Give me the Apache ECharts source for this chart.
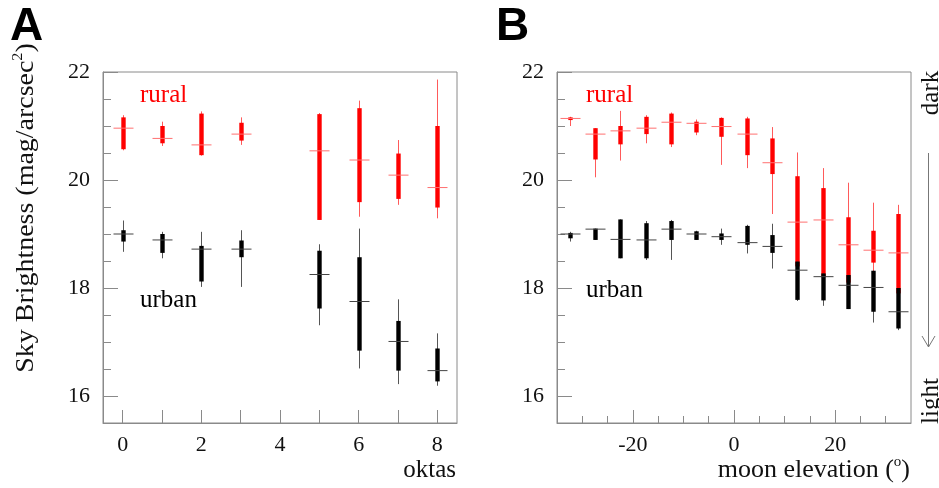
<!DOCTYPE html>
<html>
<head>
<meta charset="utf-8">
<script src="https://cdn.jsdelivr.net/npm/echarts@6/dist/echarts.min.js"></script>
<style>
html,body{margin:0;padding:0;background:#fff;}
#chart{width:939px;height:488px;}
</style>
</head>
<body>
<div id="chart"></div>
<script>
// ---------- Panel A: cloud cover (oktas) ----------
const oktas = [0, 1, 2, 3, 5, 6, 7, 8];
const ruralA_med    = [20.96, 20.77, 20.65, 20.85, 20.54, 20.37, 20.09, 19.86];
const ruralA_boxHi  = [21.16, 21.00, 21.23, 21.06, 21.22, 21.33, 20.49, 21.00];
const ruralA_boxLo  = [20.57, 20.68, 20.46, 20.73, 19.26, 19.59, 19.65, 19.49];
const ruralA_whHi   = [21.20, 21.08, 21.27, 21.16, 21.24, 21.47, 20.74, 21.86];
const ruralA_whLo   = [20.55, 20.63, 20.45, 20.65, 19.26, 19.32, 19.54, 19.29];

const urbanA_med    = [19.00, 18.89, 18.72, 18.72, 18.25, 17.75, 17.01, 16.47];
const urbanA_boxHi  = [19.07, 19.00, 18.78, 18.88, 18.69, 18.57, 17.39, 16.88];
const urbanA_boxLo  = [18.86, 18.65, 18.12, 18.57, 17.62, 16.84, 16.47, 16.27];
const urbanA_whHi   = [19.25, 19.04, 19.04, 19.07, 18.81, 19.10, 17.79, 17.16];
const urbanA_whLo   = [18.67, 18.55, 18.02, 18.02, 17.31, 16.51, 16.22, 16.19];

// ---------- Panel B: moon elevation (degrees) ----------
const moonElev = [-32.5, -27.5, -22.5, -17.5, -12.5, -7.5, -2.5, 2.5, 7.5, 12.5, 17.5, 22.5, 27.5, 32.5];
const ruralB_med   = [21.14, 20.85, 20.91, 20.96, 21.07, 21.05, 20.99, 20.85, 20.32, 19.22, 19.26, 18.80, 18.70, 18.65];
const ruralB_boxHi = [21.16, 20.96, 21.00, 21.17, 21.23, 21.08, 21.15, 21.14, 20.77, 20.07, 19.85, 19.31, 19.06, 19.37];
const ruralB_boxLo = [21.11, 20.38, 20.66, 20.85, 20.66, 20.88, 20.80, 20.46, 20.11, 18.40, 18.20, 18.10, 18.47, 17.90];
const ruralB_whHi  = [21.17, 20.96, 21.28, 21.20, 21.25, 21.12, 21.16, 21.17, 20.98, 20.51, 20.22, 19.95, 19.58, 19.54];
const ruralB_whLo  = [21.00, 20.05, 20.36, 20.68, 20.61, 20.83, 20.28, 20.22, 19.37, 18.40, 18.20, 18.10, 18.30, 17.90];

const urbanB_med   = [19.00, 19.09, 18.90, 18.89, 19.09, 19.00, 18.95, 18.84, 18.77, 18.33, 18.21, 18.05, 18.01, 17.56];
const urbanB_boxHi = [19.02, 19.10, 19.27, 19.20, 19.24, 19.05, 19.01, 19.15, 18.98, 18.49, 18.27, 18.24, 18.32, 18.00];
const urbanB_boxLo = [18.92, 18.89, 18.55, 18.55, 18.89, 18.89, 18.89, 18.80, 18.65, 17.78, 17.77, 17.61, 17.56, 17.25];
const urbanB_whHi  = [19.04, 19.10, 19.27, 19.24, 19.26, 19.06, 19.10, 19.17, 19.19, 18.49, 18.27, 18.24, 18.32, 18.00];
const urbanB_whLo  = [18.86, 18.89, 18.55, 18.52, 18.52, 18.89, 18.80, 18.64, 18.36, 17.76, 17.67, 17.61, 17.36, 17.22];

// ---------- tick labels ----------
const yTickLabels = [16, 18, 20, 22];
const yMinorTicks = [15.5, 16, 16.5, 17, 17.5, 18, 18.5, 19, 19.5, 20, 20.5, 21, 21.5, 22];
const xTicksA = [0, 1, 2, 3, 4, 5, 6, 7, 8];
const xLabelsA = [0, 2, 4, 6, 8];
const xTicksB = [-30, -25, -20, -15, -10, -5, 0, 5, 10, 15, 20, 25, 30];
const xLabelsB = [-20, 0, 20];

function rows(x, med, bHi, bLo, wHi, wLo) {
  return x.map((v, i) => [v, med[i], bLo[i], bHi[i], wLo[i], wHi[i]]);
}

function makeRender(boxColor, thinColor, medColor) {
  return function (params, api) {
    const x = api.value(0);
    const pMed = api.coord([x, api.value(1)]);
    const pBLo = api.coord([x, api.value(2)]);
    const pBHi = api.coord([x, api.value(3)]);
    const pWLo = api.coord([x, api.value(4)]);
    const pWHi = api.coord([x, api.value(5)]);
    const cx = Math.round(pMed[0]) + 0.5;
    return {
      type: 'group',
      children: [
        { type: 'line', shape: { x1: cx, y1: pWHi[1], x2: cx, y2: pWLo[1] },
          style: { stroke: thinColor, lineWidth: 1 } },
        { type: 'rect', shape: { x: cx - 2.2, y: pBHi[1], width: 4.4, height: pBLo[1] - pBHi[1] },
          style: { fill: boxColor } },
        { type: 'line', shape: { x1: cx - 10, y1: pMed[1], x2: cx + 10, y2: pMed[1] },
          style: { stroke: medColor, lineWidth: 1 } }
      ]
    };
  };
}

const serif = 'Liberation Serif';
const frameColor = '#8a8a8a';

function yAxes(grid) {
  return [
    { gridIndex: grid, type: 'value', min: 15.5, max: 22, position: 'left',
      axisLine: { show: true, onZero: false, lineStyle: { color: frameColor } },
      axisTick: { show: true, inside: true, length: 8, customValues: yMinorTicks, lineStyle: { color: frameColor } },
      axisLabel: { customValues: yTickLabels, fontFamily: serif, fontSize: 22, color: '#111', margin: 13 },
      splitLine: { show: false } },
    { gridIndex: grid, type: 'value', min: 15.5, max: 22, position: 'left', offset: 0,
      axisLine: { show: false, onZero: false },
      axisTick: { show: true, inside: true, length: 15, customValues: yTickLabels, lineStyle: { color: frameColor } },
      axisLabel: { show: false }, splitLine: { show: false } }
  ];
}

const option = {
  backgroundColor: '#fff',
  animation: false,
  grid: [
    { left: 103, top: 72, width: 354, height: 351, show: true, borderColor: frameColor, borderWidth: 1 },
    { left: 557, top: 72, width: 354, height: 351, show: true, borderColor: frameColor, borderWidth: 1 }
  ],
  xAxis: [
    { gridIndex: 0, type: 'value', min: -0.5, max: 8.5,
      axisLine: { show: true, onZero: false, lineStyle: { color: frameColor } },
      axisTick: { show: true, inside: true, length: 13, customValues: xTicksA, lineStyle: { color: frameColor } },
      axisLabel: { customValues: xLabelsA, fontFamily: serif, fontSize: 22, color: '#111', margin: 11 },
      splitLine: { show: false } },
    { gridIndex: 1, type: 'value', min: -35, max: 35,
      axisLine: { show: true, onZero: false, lineStyle: { color: frameColor } },
      axisTick: { show: true, inside: true, length: 7, customValues: xTicksB, lineStyle: { color: frameColor } },
      axisLabel: { customValues: xLabelsB, fontFamily: serif, fontSize: 22, color: '#111', margin: 11 },
      splitLine: { show: false } },
    { gridIndex: 1, type: 'value', min: -35, max: 35, position: 'bottom', offset: 0,
      axisLine: { show: false, onZero: false },
      axisTick: { show: true, inside: true, length: 13, customValues: xLabelsB, lineStyle: { color: frameColor } },
      axisLabel: { show: false }, splitLine: { show: false } }
  ],
  yAxis: yAxes(0).concat(yAxes(1)),
  series: [
    { type: 'custom', xAxisIndex: 0, yAxisIndex: 0, renderItem: makeRender('#ff0000', '#ff5a5a', '#ff7070'),
      data: rows(oktas, ruralA_med, ruralA_boxHi, ruralA_boxLo, ruralA_whHi, ruralA_whLo), clip: false },
    { type: 'custom', xAxisIndex: 0, yAxisIndex: 0, renderItem: makeRender('#000000', '#555555', '#444444'),
      data: rows(oktas, urbanA_med, urbanA_boxHi, urbanA_boxLo, urbanA_whHi, urbanA_whLo), clip: false },
    { type: 'custom', xAxisIndex: 1, yAxisIndex: 2, renderItem: makeRender('#ff0000', '#ff5a5a', '#ff7070'),
      data: rows(moonElev, ruralB_med, ruralB_boxHi, ruralB_boxLo, ruralB_whHi, ruralB_whLo), clip: false },
    { type: 'custom', xAxisIndex: 1, yAxisIndex: 2, renderItem: makeRender('#000000', '#555555', '#444444'),
      data: rows(moonElev, urbanB_med, urbanB_boxHi, urbanB_boxLo, urbanB_whHi, urbanB_whLo), clip: false }
  ],
  graphic: [
    { type: 'text', x: 10, y: 27, style: { text: 'A', font: 'bold 46px "Liberation Sans"', fill: '#000', verticalAlign: 'middle' } },
    { type: 'text', x: 496, y: 27, style: { text: 'B', font: 'bold 46px "Liberation Sans"', fill: '#000', verticalAlign: 'middle' } },
    { type: 'text', x: 26, y: 208, rotation: Math.PI / 2, scaleX: 1.075,
      style: { text: 'Sky Brightness (mag/arcsec{s|2})', fontFamily: serif, fontSize: 26, fill: '#111',
        align: 'center', verticalAlign: 'middle', lineHeight: 30,
        rich: { s: { fontFamily: serif, fontSize: 15, fill: '#111', verticalAlign: 'top', lineHeight: 30 } } } },
    { type: 'text', x: 140, y: 95, style: { text: 'rural', fontFamily: serif, fontSize: 25, fill: '#ff0000', verticalAlign: 'middle' } },
    { type: 'text', x: 140, y: 300, style: { text: 'urban', fontFamily: serif, fontSize: 25, fill: '#000', verticalAlign: 'middle' } },
    { type: 'text', x: 586, y: 95, style: { text: 'rural', fontFamily: serif, fontSize: 25, fill: '#ff0000', verticalAlign: 'middle' } },
    { type: 'text', x: 586, y: 290, style: { text: 'urban', fontFamily: serif, fontSize: 25, fill: '#000', verticalAlign: 'middle' } },
    { type: 'text', x: 456, y: 470, style: { text: 'oktas', fontFamily: serif, fontSize: 25, fill: '#111', align: 'right', verticalAlign: 'middle' } },
    { type: 'text', x: 910, y: 470,
      style: { text: 'moon elevation ({s|o})', fontFamily: serif, fontSize: 26, fill: '#111', align: 'right', verticalAlign: 'middle', lineHeight: 30,
        rich: { s: { fontFamily: serif, fontSize: 15, fill: '#111', verticalAlign: 'top', lineHeight: 30 } } } },
    { type: 'text', x: 931, y: 93, rotation: Math.PI / 2,
      style: { text: 'dark', fontFamily: serif, fontSize: 25, fill: '#111', align: 'center', verticalAlign: 'middle' } },
    { type: 'text', x: 931, y: 401, rotation: Math.PI / 2,
      style: { text: 'light', fontFamily: serif, fontSize: 25, fill: '#111', align: 'center', verticalAlign: 'middle' } },
    { type: 'line', shape: { x1: 928.5, y1: 153, x2: 928.5, y2: 347 }, style: { stroke: '#777', lineWidth: 1 } },
    { type: 'polyline', shape: { points: [[922, 336], [928.5, 347], [935, 336]] }, style: { stroke: '#777', lineWidth: 1, fill: null } }
  ]
};

const chart = echarts.init(document.getElementById('chart'), null, { renderer: 'canvas' });
chart.setOption(option);
</script>
</body>
</html>
